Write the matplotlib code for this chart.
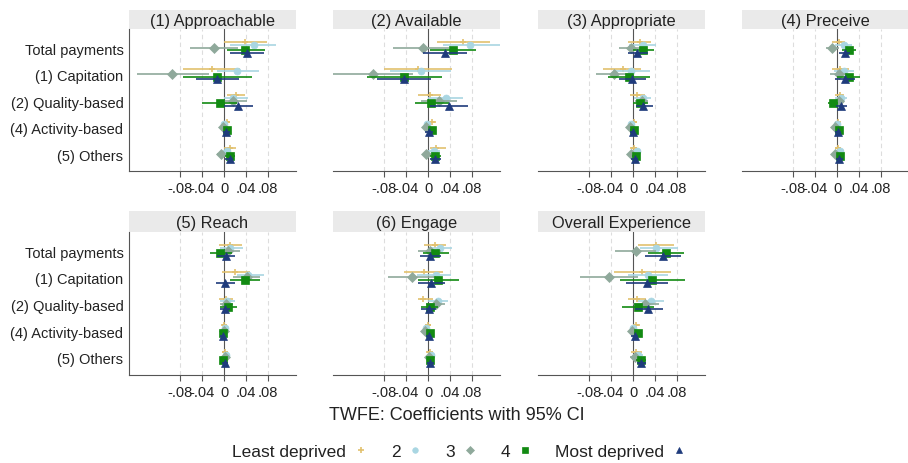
import matplotlib
matplotlib.use("Agg")
import matplotlib.pyplot as plt
import numpy as np
from matplotlib.lines import Line2D

plt.rcParams['font.family'] = ['Liberation Sans', 'DejaVu Sans']

# payment categories (rows) and deprivation groups (series)
categories = ["Total payments", "(1) Capitation", "(2) Quality-based",
              "(4) Activity-based", "(5) Others"]
groups = ["Least deprived", "2", "3", "4", "Most deprived"]
colors = ["#e2c16e", "#a9d6e2", "#8fa99b", "#128a12", "#1f3b7c"]
markers = ["+", "o", "D", "s", "^"]
msizes = [5, 5, 5, 5.5, 5.5]

titles = ["(1) Approachable", "(2) Available", "(3) Appropriate", "(4) Preceive",
          "(5) Reach", "(6) Engage", "Overall Experience"]

# coefficients and 95% CI: rows = categories, columns = groups
approach_b = [[.039, .055, -.018, .039, .041], [-.022, .024, -.094, -.012, -.012],
              [.021, .017, .017, -.008, .025], [.005, 0, -.002, .005, .004],
              [.010, .005, -.006, .011, .010]]
approach_lo = [[0, .011, -.062, .005, .010], [-.074, -.013, -.159, -.075, -.051],
               [.005, 0, 0, -.041, 0], [0, -.004, -.007, 0, -.001],
               [0, -.002, -.013, .002, .002]]
approach_hi = [[.078, .095, .026, .075, .073], [.029, .064, -.028, .050, .028],
               [.038, .044, .041, .023, .053], [.011, .005, .002, .011, .010],
               [.022, .012, .002, .020, .017]]

avail_b = [[.064, .077, -.010, .045, .030], [-.018, -.013, -.100, -.044, -.044],
           [.003, .032, .020, .006, .038], [.008, -.002, -.003, .008, .002],
           [.015, .010, -.003, .013, .013]]
avail_lo = [[.017, .027, -.064, .004, -.009], [-.081, -.070, -.173, -.112, -.093],
            [-.018, 0, -.012, -.024, .004], [0, -.008, -.009, 0, -.006],
            [.003, 0, -.010, .003, .003]]
avail_hi = [[.112, .131, .039, .088, .071], [.044, .042, -.027, .025, .005],
            [.024, .064, .052, .038, .073], [.015, .006, .003, .015, .009],
            [.032, .021, .004, .024, .024]]

approp_b = [[.012, .018, -.004, .019, .008], [-.019, -.004, -.034, -.008, -.002],
            [.007, .018, .016, .013, .019], [.002, -.004, -.005, .001, 0],
            [.001, .007, -.004, .005, .003]]
approp_lo = [[-.010, -.007, -.025, 0, -.010], [-.054, -.037, -.067, -.046, -.026],
             [-.005, .002, .004, 0, .005], [-.004, -.008, -.010, -.005, -.005],
             [-.005, 0, -.009, -.002, -.004]]
approp_hi = [[.033, .041, .018, .039, .027], [.015, .030, 0, .031, .024],
             [.021, .033, .028, .028, .036], [.007, .001, 0, .005, .004],
             [.007, .013, .001, .013, .009]]

perceive_b = [[.003, .012, -.009, .022, .014], [.006, .012, .003, .021, .015],
              [.005, .007, .003, -.008, .007], [.001, 0, -.003, .003, .002],
              [.001, .006, -.003, .006, .004]]
perceive_lo = [[-.009, -.003, -.021, .009, .003], [-.009, -.006, -.012, 0, -.003],
               [-.003, -.003, -.006, -.016, -.002], [-.004, -.006, -.008, -.002, -.003],
               [-.004, -.002, -.008, 0, -.001]]
perceive_hi = [[.015, .027, .003, .035, .024], [.021, .030, .018, .042, .033],
               [.012, .018, .012, .001, .018], [.006, .005, .002, .008, .007],
               [.007, .013, .003, .012, .010]]

reach_b = [[.011, .011, .008, -.007, .004], [.020, .044, .041, .038, .002],
           [.004, .006, .004, .008, .002], [0, .001, 0, -.001, -.002],
           [.002, .004, .001, -.002, .002]]
reach_lo = [[-.010, -.007, -.013, -.025, -.013], [-.004, .023, .017, .011, -.015],
            [-.010, -.007, -.008, -.008, -.007], [-.004, -.004, -.005, -.006, -.007],
            [-.004, -.002, -.004, -.007, -.004]]
reach_hi = [[.032, .035, .029, .014, .020], [.047, .072, .065, .065, .020],
            [.017, .020, .016, .023, .011], [.005, .006, .005, .004, .002],
            [.008, .010, .007, .003, .008]]

engage_b = [[.013, .021, .003, .013, .004], [-.008, .015, -.029, .019, .006],
            [-.009, .018, .014, .003, .002], [0, -.004, -.005, .003, .001],
            [.003, .006, .002, .003, .004]]
engage_lo = [[-.008, .002, -.018, -.009, -.014], [-.044, -.021, -.073, -.018, -.018],
             [-.018, 0, -.003, -.012, -.012], [-.005, -.009, -.010, -.002, -.004],
             [-.003, 0, -.003, -.002, -.001]]
engage_hi = [[.033, .044, .024, .038, .024], [.028, .042, .015, .056, .030],
             [.009, .036, .030, .018, .015], [.005, .001, 0, .008, .005],
             [.009, .012, .007, .008, .010]]

overall_b = [[.042, .042, .006, .060, .054], [.017, .027, -.043, .035, .026],
             [.007, .032, .021, .009, .028], [.006, 0, -.001, .009, .003],
             [.006, .009, .003, .015, .015]]
overall_lo = [[.009, .012, -.033, .027, .021], [-.035, -.009, -.097, -.024, -.012],
              [-.009, .009, 0, -.021, .003], [0, -.006, -.007, .002, -.003],
              [-.003, 0, -.005, .006, .007]]
overall_hi = [[.075, .081, .042, .093, .087], [.069, .063, .009, .095, .064],
              [.024, .057, .048, .039, .055], [.012, .006, .005, .015, .009],
              [.017, .018, .011, .024, .023]]

panels = [(approach_b, approach_lo, approach_hi), (avail_b, avail_lo, avail_hi),
          (approp_b, approp_lo, approp_hi), (perceive_b, perceive_lo, perceive_hi),
          (reach_b, reach_lo, reach_hi), (engage_b, engage_lo, engage_hi),
          (overall_b, overall_lo, overall_hi)]

W, H = 908, 464
fig = plt.figure(figsize=(W / 100, H / 100), dpi=100)
fig.patch.set_facecolor("white")

# panel boxes in pixels: left, top of plot area, bottom of plot area
col_left = [129, 333, 538, 742]
pw = 167
rows_px = [(11, 30, 172), (212, 233, 376)]
offsets = [-0.22, -0.12, -0.02, 0.08, 0.18]
ticks = [-.08, -.04, 0, .04, .08]
ticklabels = ["-.08", "-.04", "0", ".04", ".08"]


def px(l, t, w, h):
    return [l / W, 1 - (t + h) / H, w / W, h / H]


for k, (b, lo, hi) in enumerate(panels):
    r, c = divmod(k, 4)
    head_top, plot_top, plot_bot = rows_px[r]
    left = col_left[c]

    # grey title strip
    hax = fig.add_axes(px(left, head_top, pw, plot_top - head_top))
    hax.set_facecolor("#eaeaea")
    for s in hax.spines.values():
        s.set_visible(False)
    hax.set_xticks([])
    hax.set_yticks([])
    hax.text(0.5, 0.45, titles[k], ha="center", va="center", fontsize=11.8,
             color="#222222", transform=hax.transAxes)

    ax = fig.add_axes(px(left, plot_top, pw, plot_bot - plot_top))
    b, lo, hi = np.array(b), np.array(lo), np.array(hi)
    for g in range(len(groups)):
        y = np.arange(len(categories)) + offsets[g]
        ax.hlines(y, lo[:, g], hi[:, g], color=colors[g], lw=1.2, zorder=3 + g)
        ax.plot(b[:, g], y, ls="none", marker=markers[g], ms=msizes[g],
                color=colors[g], mec=colors[g], mew=1.2 if markers[g] == "+" else 0.5,
                zorder=3 + g)

    for t in ticks:
        if t == 0:
            ax.axvline(0, color="#555555", lw=0.8, zorder=2)
        else:
            ax.axvline(t, color="#dddddd", lw=0.8, ls=(0, (4, 3)), zorder=1)

    ax.set_xlim(-0.173, 0.131)
    ax.set_ylim(4.64, -0.72)
    ax.set_xticks(ticks)
    ax.set_xticklabels(ticklabels, fontsize=10.5, color="#222222")
    ax.tick_params(axis="x", length=4, width=0.8, color="#555555", pad=3)
    ax.spines["top"].set_visible(False)
    ax.spines["right"].set_visible(False)
    ax.spines["bottom"].set_color("#555555")
    ax.spines["bottom"].set_linewidth(0.8)
    if c == 0:
        ax.spines["left"].set_color("#555555")
        ax.spines["left"].set_linewidth(0.8)
        ax.set_yticks(range(len(categories)))
        ax.set_yticklabels(categories, fontsize=10.5, color="#222222")
        ax.tick_params(axis="y", length=0, pad=4)
    else:
        ax.spines["left"].set_visible(False)
        ax.set_yticks([])

fig.text(457 / W, 1 - 416 / H, "TWFE: Coefficients with 95% CI", ha="center",
         va="center", fontsize=13, color="#222222")

handles = [Line2D([], [], ls="none", marker=markers[g], ms=msizes[g] - 1,
                  color=colors[g], mew=1.2 if markers[g] == "+" else 0.5)
           for g in range(len(groups))]
fig.legend(handles, groups, loc="center", bbox_to_anchor=(459 / W, 1 - 452 / H),
           ncol=5, frameon=False, markerfirst=False, fontsize=12.5,
           handlelength=0.8, handletextpad=0.45, columnspacing=1.35,
           labelcolor="#222222")

fig.savefig("out.png", dpi=100, facecolor="white")
